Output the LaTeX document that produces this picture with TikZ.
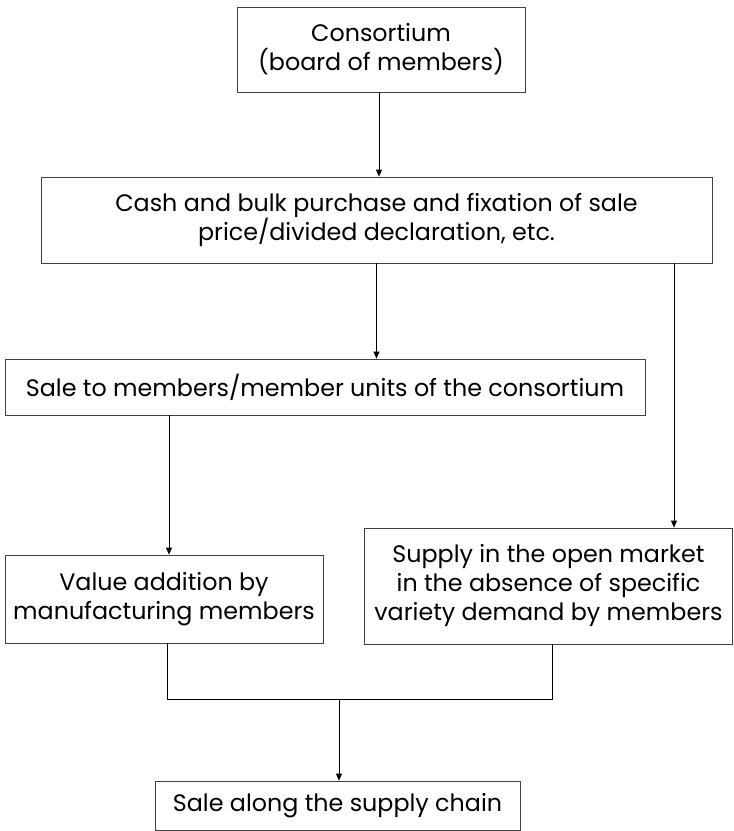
\documentclass[tikz,border=0pt]{standalone}
\usepackage{fontspec}
\setmainfont{Poppins}
\usetikzlibrary{arrows.meta}
\tikzset{
  box/.style={draw=black!75, line width=0.8pt, align=center, inner sep=0pt,
    font=\fontsize{23.8}{29}\selectfont},
  pfeil/.style={-{Triangle[length=7pt,width=6pt]}, line width=0.8pt}
}
\begin{document}
\begin{tikzpicture}[x=1pt,y=-1pt]
    \useasboundingbox (0,0) rectangle (734,831);
    % Kaesten
    \node[box, minimum width=288pt, minimum height=85pt] (cons) at (381,49.5) {Consortium\\(board of members)};
    \node[box, minimum width=671pt, minimum height=86pt] (cash) at (376.5,220) {Cash and bulk purchase and fixation of sale\\price/divided declaration, etc.};
    \node[box, minimum width=640pt, minimum height=56pt] (sale) at (325,387) {Sale to members/member units of the consortium};
    \node[box, minimum width=318pt, minimum height=88pt] (value) at (164,599) {Value addition by\\manufacturing members};
    \node[box, minimum width=368pt, minimum height=116pt] (supply) at (548.5,586) {Supply in the open market\\in the absence of specific\\variety demand by members};
    \node[box, minimum width=365pt, minimum height=49pt] (final) at (337.5,805.5) {Sale along the supply chain};
    % Verbindungen
    \coordinate (join) at (339,699);
    \draw[pfeil] ([xshift=-2pt]cons.south) -- ([xshift=-2pt]cons.south |- cash.north);
    \draw[pfeil] (cash.south) -- (cash.south |- sale.north);
    \draw[pfeil] ([xshift=125.5pt]supply.north |- cash.south) -- ([xshift=125.5pt]supply.north);
    \draw[pfeil] ([xshift=5pt]value.north |- sale.south) -- ([xshift=5pt]value.north);
    \draw[line width=0.8pt] ([xshift=3pt]value.south) |- (join) -| ([xshift=3.5pt]supply.south);
    \draw[pfeil] (join) -- (join |- final.north);
\end{tikzpicture}
\end{document}
